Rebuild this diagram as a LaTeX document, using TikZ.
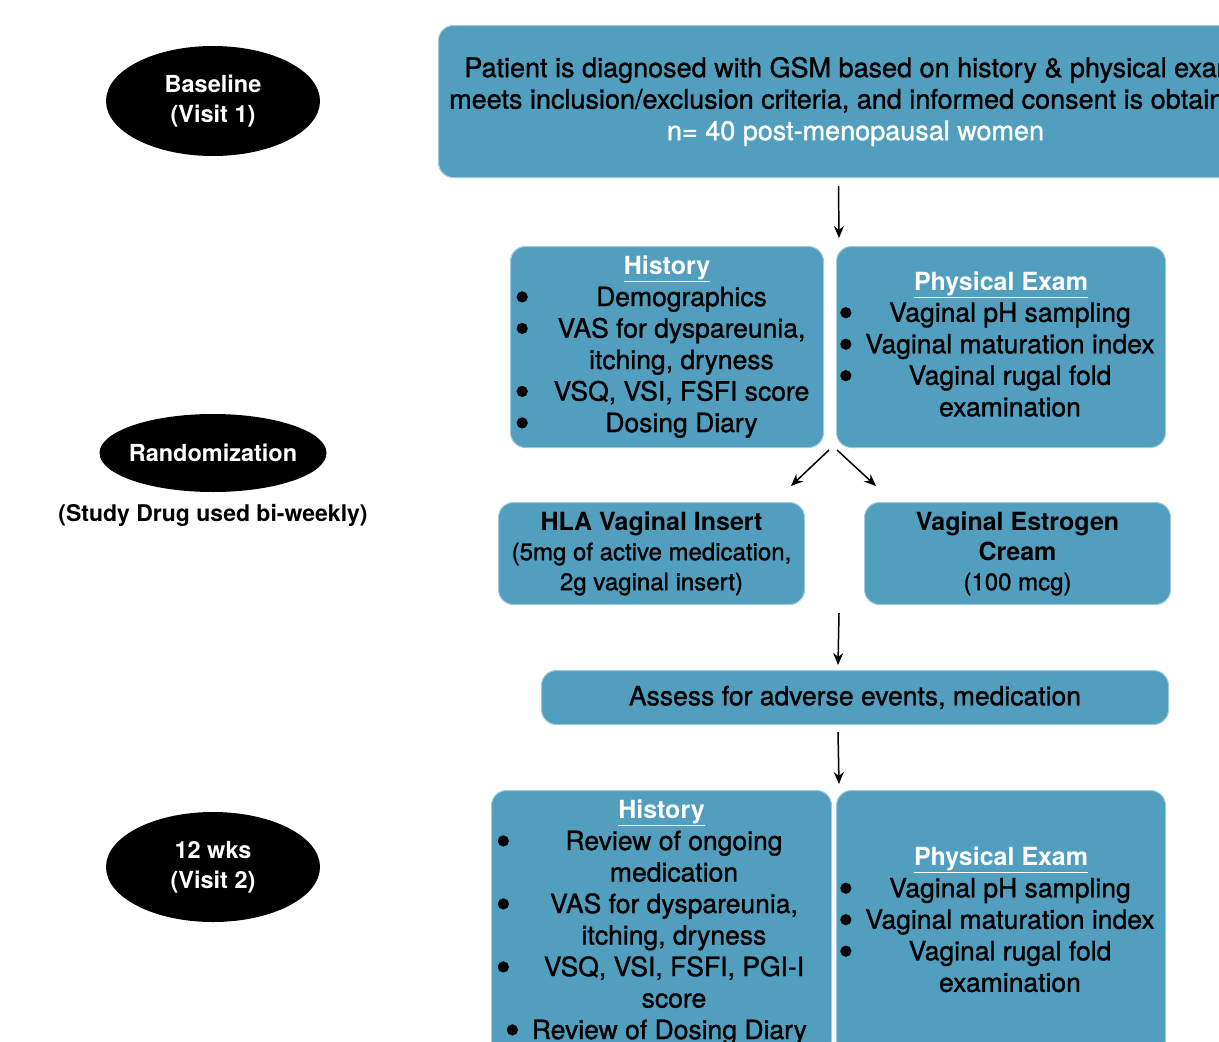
\documentclass[tikz,border=0pt]{standalone}
\usepackage{fontspec}
\setmainfont{TeX Gyre Heros}[UprightFeatures={FakeBold=1.2}]
\usetikzlibrary{positioning,shapes.geometric,arrows.meta}
\definecolor{boxblue}{RGB}{82,158,190}
\newcommand{\boxhead}[1]{\textcolor{white}{\fontsize{25}{31.5}\selectfont\bfseries\underline{#1}}}
\newcommand{\bigdot}{\makebox[9pt][c]{\raisebox{-5.5pt}{\scalebox{1.6}{\textbullet}}}}

\begin{document}
\begin{tikzpicture}[x=1pt,y=-1pt]
  \tikzstyle{visit} = [ellipse, fill=black, text=white, align=center, inner sep=0pt, font=\fontsize{23.5}{30}\selectfont\bfseries]
  \tikzstyle{box}   = [rounded corners=15pt, fill=boxblue, draw=boxblue!55!white, line width=1pt, align=center, inner sep=0pt, anchor=north west, font=\fontsize{26.5}{31.5}\selectfont]
  \tikzstyle{drug}  = [box, font=\fontsize{24}{30}\selectfont]
  \tikzstyle{arrow} = [-{Stealth[length=12pt,width=10pt]}, line width=1.5pt]

  \useasboundingbox (0,0) rectangle (1219,1042);
  \clip (0,0) rectangle (1219,1042);

  % Visits
  \node[visit, minimum width=214, minimum height=110] (visit1) at (213,101) {Baseline\\(Visit 1)};
  \node[visit, minimum width=227, minimum height=78, inner xsep=-25pt] (random) at (213,453) {Randomization};
  \node[font=\fontsize{23}{27}\selectfont\bfseries, below=9pt of random] (drugnote) {(Study Drug used bi-weekly)};
  \node[visit, minimum width=214, minimum height=110] (visit2) at (213,867) {12 wks\\(Visit 2)};

  % Screening
  \node[box, minimum width=834, minimum height=152, font=\fontsize{27}{31.5}\selectfont] (screen) at (438,25) {Patient is diagnosed with GSM based on history \& physical exam,\\meets inclusion/exclusion criteria, and informed consent is obtained.\\\textcolor{white}{n= 40 post-menopausal women}};

  % Baseline assessment
  \node[box, minimum width=313, minimum height=201] (hist1) at (510,246) {%
    \begin{tabular}{@{}l@{\hspace{27pt}}c@{\hspace{7pt}}}
      \multicolumn{2}{c}{\boxhead{History}}\\
      \bigdot & Demographics\\
      \bigdot & VAS for dyspareunia,\\
              & itching, dryness\\
      \bigdot & VSQ, VSI, FSFI score\\
      \bigdot & Dosing Diary
    \end{tabular}};
  \node[box, minimum width=329, minimum height=201, right=12pt of hist1] (exam1) {%
    \begin{tabular}{@{}l@{\hspace{15pt}}c@{\hspace{6pt}}}
      \multicolumn{2}{c}{\boxhead{Physical Exam}}\\
      \bigdot & Vaginal pH sampling\\
      \bigdot & Vaginal maturation index\\
      \bigdot & Vaginal rugal fold\\
              & examination
    \end{tabular}};

  % Study arms
  \node[drug, minimum width=306, minimum height=102] (hla) at (498,502) {{\bfseries\fontsize{25}{30}\selectfont HLA Vaginal Insert}\\(5mg of active medication,\\2g vaginal insert)};
  \node[drug, minimum width=306, minimum height=102, right=59pt of hla] (cream) {{\bfseries\fontsize{25}{30}\selectfont Vaginal Estrogen}\\{\bfseries\fontsize{25}{30}\selectfont Cream}\\(100 mcg)};

  \node[box, minimum width=627, minimum height=54] (assess) at (541,670) {Assess for adverse events, medication};

  % Follow-up
  \node[box, minimum width=340, minimum height=264] (hist2) at (491,790) {%
    \begin{tabular}{@{}l@{\hspace{36pt}}c@{\hspace{20pt}}}
      \multicolumn{2}{c}{\boxhead{History}}\\
      \bigdot & Review of ongoing\\
              & medication\\
      \bigdot & VAS for dyspareunia,\\
              & itching, dryness\\
      \bigdot & VSQ, VSI, FSFI, PGI-I\\
              & score\\
      \multicolumn{2}{@{\hspace{9pt}}l@{}}{\bigdot\hspace{15pt}\rlap{Review of Dosing Diary}}
    \end{tabular}};
  \node[box, minimum width=329, minimum height=264, right=4pt of hist2] (exam2) {%
    \begin{tabular}{@{}l@{\hspace{15pt}}c@{\hspace{6pt}}}
      \multicolumn{2}{c}{\boxhead{Physical Exam}}\\
      \bigdot & Vaginal pH sampling\\
      \bigdot & Vaginal maturation index\\
      \bigdot & Vaginal rugal fold\\
              & examination
    \end{tabular}};

  % Arrows
  \draw[arrow] ([xshift=-17pt,yshift=-8pt]screen.south) -- ([xshift=15pt,yshift=8pt]hist1.north east);
  \draw[arrow] ([xshift=5pt,yshift=-2pt]hist1.south east) -- ([xshift=-14pt,yshift=16pt]hla.north east);
  \draw[arrow] ([xshift=1pt,yshift=-2pt]exam1.south west) -- ([xshift=12pt,yshift=16pt]cream.north west);
  \draw[arrow] ([xshift=34pt,yshift=-8pt]hla.south east) -- ([xshift=-17pt,yshift=5pt]assess.north);
  \draw[arrow] ([xshift=-17pt,yshift=-7pt]assess.south) -- ([xshift=3pt,yshift=6pt]exam2.north west);
\end{tikzpicture}
\end{document}
